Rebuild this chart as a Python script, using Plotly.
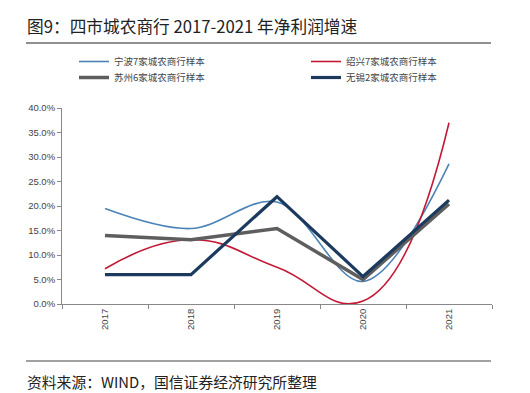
import plotly.graph_objects as go

years = ["2017", "2018", "2019", "2020", "2021"]
ningbo = [19.5, 15.4, 20.8, 4.6, 28.6]
shaoxing = [7.2, 13.1, 7.5, 0.6, 37.0]
suzhou = [14.0, 13.1, 15.4, 5.0, 20.4]
wuxi = [6.0, 6.0, 21.9, 5.6, 21.2]
yticks = [0, 5, 10, 15, 20, 25, 30, 35, 40]
ytext = [f"{v:.1f}%" for v in yticks]

W, H = 530, 393
L, R, T, B = 54, 484, 100, 296

def px(x):
    return (x - L) / (R - L)

def py(y):
    return (B - y) / (B - T)

font = "Noto Sans CJK SC"
fig = go.Figure()
fig.add_trace(go.Scatter(x=years, y=ningbo, name="宁波7家城农商行样本", mode="lines", legend="legend",
                         line=dict(color="#4C83B6", width=1.6, shape="spline", smoothing=1)))
fig.add_trace(go.Scatter(x=years, y=shaoxing, name="绍兴7家城农商行样本", mode="lines", legend="legend2",
                         line=dict(color="#C21A36", width=1.6, shape="spline", smoothing=1.3)))
fig.add_trace(go.Scatter(x=years, y=suzhou, name="苏州6家城农商行样本", mode="lines", legend="legend3",
                         line=dict(color="#5E5E5E", width=3.5)))
fig.add_trace(go.Scatter(x=years, y=wuxi, name="无锡2家城农商行样本", mode="lines", legend="legend4",
                         line=dict(color="#1C3A5E", width=3.2)))

leg = dict(orientation="v", xanchor="left", yanchor="top", tracegroupgap=0,
           font=dict(size=9.5, color="#444444", family=font), itemwidth=30,
           bgcolor="rgba(0,0,0,0)")

c1, c2 = 66, 298
r1, r2 = 39, 55
fig.update_layout(
    width=W, height=H,
    margin=dict(l=L, r=W - R, t=T, b=H - B),
    plot_bgcolor="white", paper_bgcolor="white",
    font=dict(family=font, color="#333333", size=10),
    showlegend=True,
    legend=dict(leg, x=px(c1), y=py(r1)),
    legend2=dict(leg, x=px(c2), y=py(r1)),
    legend3=dict(leg, x=px(c1), y=py(r2)),
    legend4=dict(leg, x=px(c2), y=py(r2)),
    xaxis=dict(type="category", range=[-0.5, 4.5], showline=True, linecolor="#888888", linewidth=1,
               ticks="outside", tickson="boundaries", ticklen=4, tickcolor="#888888",
               tickangle=-90, tickfont=dict(size=9.5, color="#444444", family="Liberation Sans"),
               showgrid=False, zeroline=False),
    yaxis=dict(range=[0, 40], tickvals=yticks, ticktext=ytext, showline=True, linecolor="#888888",
               linewidth=1, ticks="outside", ticklen=4, tickcolor="#888888",
               tickfont=dict(size=9.5, color="#444444", family="Liberation Sans"),
               showgrid=False, zeroline=False),
)

shapes = [
    dict(type="line", xref="paper", yref="paper", x0=px(18), x1=px(483), y0=py(35), y1=py(35),
         line=dict(color="#222222", width=1.2)),
    dict(type="line", xref="paper", yref="paper", x0=px(18), x1=px(483), y0=py(353), y1=py(353),
         line=dict(color="#444444", width=1.2)),
]
fig.update_layout(shapes=shapes)
fig.add_annotation(text="图9：四市城农商行 2017-2021 年净利润增速", xref="paper", yref="paper",
                   x=px(17), y=py(18), xanchor="left", yanchor="middle", showarrow=False,
                   font=dict(size=16.7, color="#222222", family=font))
fig.add_annotation(text="资料来源：WIND，国信证券经济研究所整理", xref="paper", yref="paper",
                   x=px(17), y=py(373), xanchor="left", yanchor="middle", showarrow=False,
                   font=dict(size=14.8, color="#222222", family=font))

fig.write_html("out.html")
